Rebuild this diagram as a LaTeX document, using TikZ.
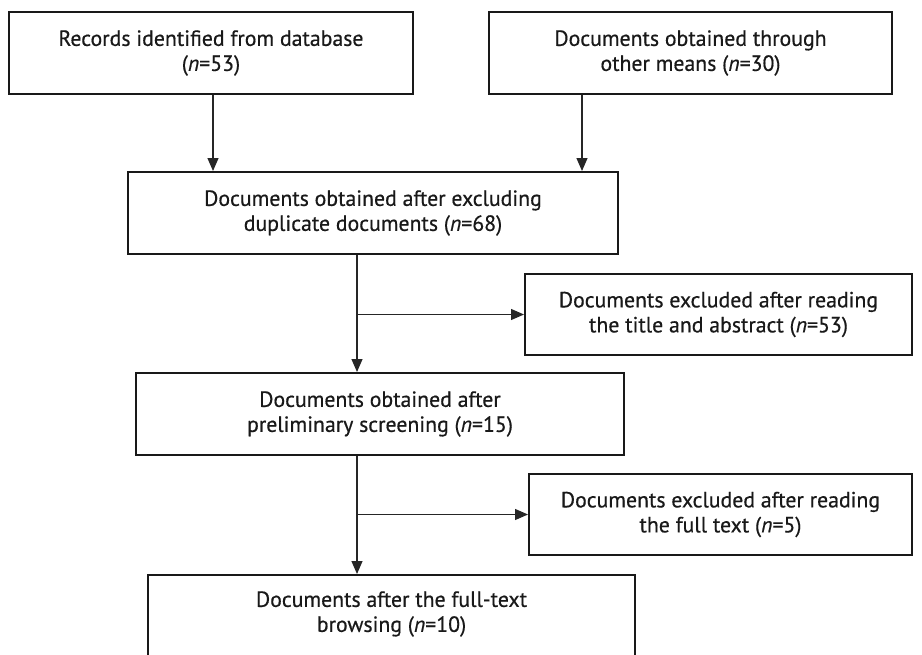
\documentclass[tikz,border=0pt]{standalone}
\usepackage{fontspec}
\setmainfont{PT Sans}[FakeStretch=0.99,FakeBold=0.5]
\usetikzlibrary{arrows.meta,calc}
\begin{document}
\begin{tikzpicture}[x=1pt,y=-1pt,
  box/.style={draw=black!90,line width=2pt,fill=white,align=center,inner sep=0pt,
    font=\fontsize{22}{25}\selectfont,text=black!90},
  conn/.style={draw=black!85,line width=1.2pt,-{Triangle[length=13pt,width=11pt]}}]
\clip (0,0) rectangle (922,654);
\useasboundingbox (0,0) rectangle (922,654);
\node[box,minimum width=404pt,minimum height=82pt] (A) at (211,53)
  {Records identified from database\\(\textit{n}=53)};
\node[box,minimum width=403pt,minimum height=82pt] (B) at (690.5,53)
  {Documents obtained through\\other means (\textit{n}=30)};
\node[box,minimum width=490pt,minimum height=82pt] (C) at (373,213)
  {Documents obtained after excluding\\duplicate documents (\textit{n}=68)};
\node[box,minimum width=387pt,minimum height=81pt] (D) at (718.5,314.5)
  {Documents excluded after reading\\the title and abstract (\textit{n}=53)};
\node[box,minimum width=488pt,minimum height=82pt] (E) at (380,414)
  {Documents obtained after\\preliminary screening (\textit{n}=15)};
\node[box,minimum width=383pt,minimum height=81pt] (F) at (720.5,514.5)
  {Documents excluded after reading\\the full text (\textit{n}=5)};
\node[box,minimum width=487pt,minimum height=110pt,anchor=north] (G) at (391.5,574) {};
\node[font=\fontsize{22}{25}\selectfont,text=black!90,align=center] (Gt) at (391.5,614)
  {Documents after the full-text\\browsing (\textit{n}=10)};
% connectors
\draw[conn] ([xshift=2pt]A.south) -- ([xshift=2pt]A.south |- C.north);
\draw[conn] ([xshift=-108.5pt]B.south) -- ([xshift=-108.5pt]B.south |- C.north);
\coordinate (c1) at ([xshift=-16pt]C.south);
\coordinate (b1) at (c1 |- D.west);
\draw[conn] (c1) -- (c1 |- E.north);
\draw[conn] (b1) -- (D.west);
\coordinate (e1) at ([xshift=-23pt]E.south);
\coordinate (b2) at (e1 |- F.west);
\draw[conn] (e1) -- (e1 |- G.north);
\draw[conn] (b2) -- (F.west);
\end{tikzpicture}
\end{document}
